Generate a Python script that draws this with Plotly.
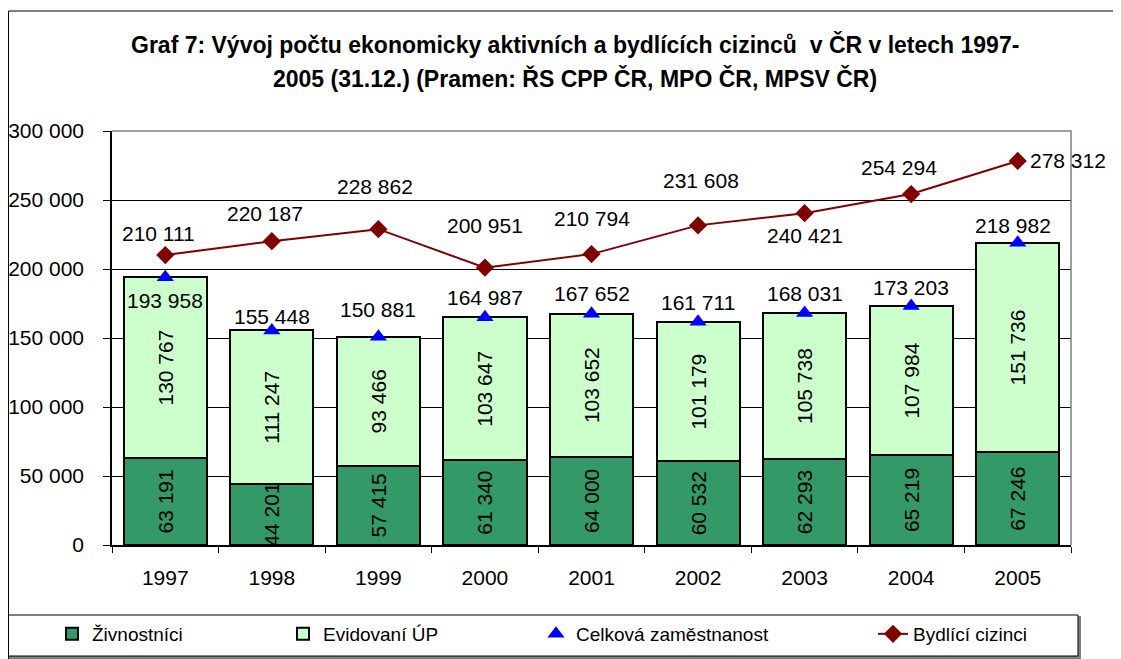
import plotly.graph_objects as go

years = ["1997", "1998", "1999", "2000", "2001", "2002", "2003", "2004", "2005"]
zivnostnici = [63191, 44201, 57415, 61340, 64000, 60532, 62293, 65219, 67246]
evidovani = [130767, 111247, 93466, 103647, 103652, 101179, 105738, 107984, 151736]
celkova = [193958, 155448, 150881, 164987, 167652, 161711, 168031, 173203, 218982]
bydlici = [210111, 220187, 228862, 200951, 210794, 231608, 240421, 254294, 278312]
y_ticks = [0, 50000, 100000, 150000, 200000, 250000, 300000]

title_lines = ["Graf 7: Vývoj počtu ekonomicky aktivních a bydlících cizinců \u00a0v ČR v letech 1997-",
               "2005 (31.12.) (Pramen: ŘS CPP ČR, MPO ČR, MPSV ČR)"]

# label offsets (pixels) - styling only
byd_dx = [-7, -7, -3, 0, 0, 3, 0, -12, 10]
byd_dy = [22, 28, 43, 42, 36, 45, -22, 27, 0]
cel_dx = [0, 0, 0, 0, 0, 0, 0, 0, -5]
cel_dy = [-23, 14, 27, 20, 20, 19, 20, 18, 17]


def fmt(v):
    return f"{v:,}".replace(",", " ")


# page has an 8px body margin; plot area in screen pixels: x 112..1071, y 131..545
PL, PR, PT, PB = 112, 1071, 131, 545
OFF = 8


def px(x):
    return (x - PL) / (PR - PL)


def py(y):
    return (PB - y) / (PB - PT)


FONT = "Liberation Sans, Arial, sans-serif"
fig = go.Figure()

fig.add_trace(go.Bar(
    x=years, y=zivnostnici, name="Živnostníci",
    marker=dict(color="#339966", line=dict(color="black", width=2)),
    text=[fmt(v) for v in zivnostnici], textposition="inside",
    insidetextanchor="middle", textangle=-90,
    textfont=dict(size=21, color="black", family=FONT),
    legend="legend",
))
fig.add_trace(go.Bar(
    x=years, y=evidovani, name="Evidovaní ÚP",
    marker=dict(color="#CCFFCC", line=dict(color="black", width=2)),
    text=[fmt(v) for v in evidovani], textposition="inside",
    insidetextanchor="middle", textangle=-90,
    textfont=dict(size=21, color="black", family=FONT),
    legend="legend2",
))
fig.add_trace(go.Scatter(
    x=years, y=celkova, name="Celková zaměstnanost", mode="markers",
    marker=dict(symbol="triangle-up", color="#0000FF", size=15),
    legend="legend3",
))
fig.add_trace(go.Scatter(
    x=years, y=bydlici, name="Bydlící cizinci", mode="lines+markers",
    line=dict(color="#800000", width=2),
    marker=dict(symbol="diamond", color="#800000", size=14),
    legend="legend4",
))

annotations = []
for i, yr in enumerate(years):
    annotations.append(dict(
        x=i, y=bydlici[i], xref="x", yref="y", text=fmt(bydlici[i]),
        showarrow=False, xshift=byd_dx[i], yshift=byd_dy[i],
        xanchor="left" if i == len(years) - 1 else "center", yanchor="middle",
        font=dict(size=21, color="black", family=FONT)))
    annotations.append(dict(
        x=i, y=celkova[i], xref="x", yref="y", text=fmt(celkova[i]),
        showarrow=False, xshift=cel_dx[i], yshift=cel_dy[i],
        xanchor="center", yanchor="middle",
        font=dict(size=21, color="black", family=FONT)))

annotations.append(dict(x=px(575), y=py(45), xref="paper", yref="paper",
                        text="<b>" + title_lines[0] + "</b>",
                        showarrow=False, xanchor="center", yanchor="middle",
                        font=dict(size=23, color="black", family=FONT)))
annotations.append(dict(x=px(575), y=py(78), xref="paper", yref="paper",
                        text="<b>" + title_lines[1] + "</b>",
                        showarrow=False, xanchor="center", yanchor="middle",
                        font=dict(size=23, color="black", family=FONT)))

shapes = [
    # outer chart border
    dict(type="rect", xref="paper", yref="paper", x0=px(8.5), x1=px(1135),
         y0=py(675), y1=py(11), line=dict(color="black", width=1), layer="below"),
    # legend box shadow
    dict(type="rect", xref="paper", yref="paper", x0=px(10), x1=px(1080),
         y0=py(658), y1=py(617), line=dict(color="#808080", width=2),
         fillcolor="#808080", layer="below"),
    # legend box
    dict(type="rect", xref="paper", yref="paper", x0=px(8.5), x1=px(1078),
         y0=py(656), y1=py(615), line=dict(color="black", width=1),
         fillcolor="white", layer="below"),
    # plot area top/right border
    dict(type="path", xref="paper", yref="paper", path="M0,1 L1,1 L1,0",
         line=dict(color="#808080", width=1.5), layer="above"),
]

legend_common = dict(orientation="h", yanchor="middle", y=py(634), xanchor="left",
                     bgcolor="rgba(0,0,0,0)", borderwidth=0,
                     font=dict(size=19, color="black", family=FONT))

fig.update_layout(
    width=1121, height=659,
    margin=dict(l=PL - OFF, r=1121 - (PR - OFF), t=PT - OFF, b=659 - (PB - OFF), autoexpand=False),
    paper_bgcolor="white", plot_bgcolor="white",
    barmode="stack", bargap=0.22,
    separators=", ",
    font=dict(family=FONT, size=21, color="black"),
    uniformtext=dict(minsize=21, mode="show"),
    showlegend=True,
    legend=dict(x=px(52), **legend_common),
    legend2=dict(x=px(283), **legend_common),
    legend3=dict(x=px(536), **legend_common),
    legend4=dict(x=px(873), **legend_common),
    annotations=annotations,
    shapes=shapes,
    xaxis=dict(type="category", range=[-0.5, len(years) - 0.5], autorange=False,
               showline=True, linecolor="black", linewidth=1.5,
               ticks="outside", tickson="boundaries", ticklen=6, tickcolor="black",
               tickfont=dict(size=21, color="black", family=FONT), ticklabelstandoff=13,
               tickangle=0, showgrid=False),
    yaxis=dict(range=[0, 300000], autorange=False, tickvals=y_ticks, tickformat=",d",
               showline=True, linecolor="black", linewidth=1.5,
               ticks="outside", ticklen=7, tickcolor="black",
               showgrid=True, gridcolor="black", gridwidth=1,
               zeroline=False,
               tickfont=dict(size=21, color="black", family=FONT), ticklabelstandoff=15),
)

fig.write_html("out.html")
